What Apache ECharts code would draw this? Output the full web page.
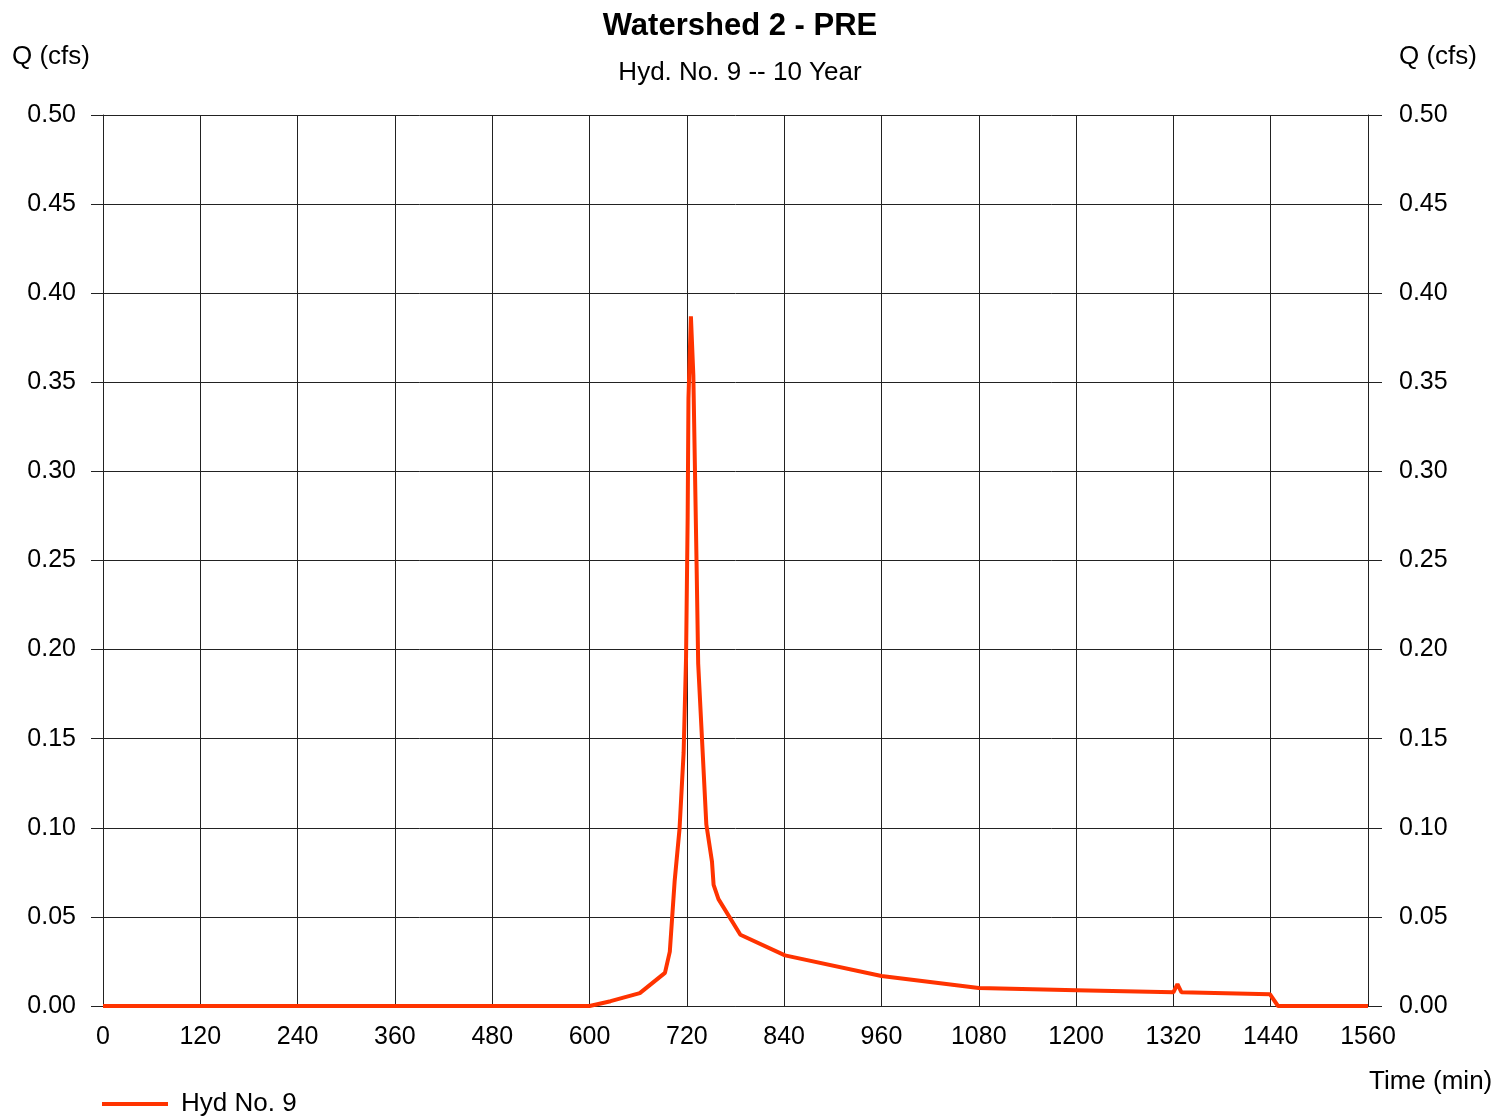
<!DOCTYPE html>
<html>
<head>
<meta charset="utf-8">
<script src="https://cdn.jsdelivr.net/npm/echarts@6/dist/echarts.min.js"></script>
<style>
  html, body { margin: 0; padding: 0; background: #fff; }
  #main { width: 1512px; height: 1116px; }
</style>
</head>
<body>
<div id="main"></div>
<script>
// hydrograph: time (min) vs flow (cfs)
const times = [0, 600, 626, 662, 693, 699, 705, 711, 716, 719, 721, 722, 725, 728, 732, 734, 744, 751, 753, 759, 786, 841, 960, 1080, 1200, 1320, 1325, 1330, 1439, 1449, 1560];
const flows = [0, 0, 0.0027, 0.0072, 0.0186, 0.0305, 0.0703, 0.0995, 0.142, 0.195, 0.274, 0.341, 0.387, 0.354, 0.248, 0.192, 0.102, 0.081, 0.068, 0.060, 0.040, 0.0284, 0.0168, 0.0101, 0.0089, 0.0077, 0.0123, 0.0077, 0.0066, 0, 0];
const seriesName = "Hyd No. 9";

const font = '"Liberation Sans", Arial, sans-serif';
const gridColor = "#222";

function yAxisCfg(pos) {
  return {
    type: "value",
    position: pos,
    min: 0,
    max: 0.5,
    interval: 0.05,
    name: "Q (cfs)",
    nameLocation: "end",
    nameGap: 58,
    nameTextStyle: {
      fontFamily: font, fontSize: 26, color: "#000",
      align: pos === "left" ? "right" : "left",
      verticalAlign: "middle",
      padding: pos === "left" ? [4, 13, 0, 0] : [4, 0, 0, 31]
    },
    axisLine: { show: true, lineStyle: { color: gridColor, width: 1 } },
    axisTick: { show: true, length: pos === "left" ? 12 : 14, lineStyle: { color: gridColor } },
    axisLabel: {
      fontFamily: font, fontSize: 25, color: "#000",
      margin: pos === "left" ? 27 : 31,
      padding: [4, 0, 0, 0],
      formatter: (v) => v.toFixed(2)
    },
    splitLine: { show: pos === "left", lineStyle: { color: gridColor, width: 1 } }
  };
}

const chart = echarts.init(document.getElementById("main"));
chart.setOption({
  animation: false,
  backgroundColor: "#fff",
  textStyle: { fontFamily: font },
  title: [
    { text: "Watershed 2 - PRE", left: 735, top: 6, textAlign: "center",
      textStyle: { fontFamily: font, fontSize: 31, fontWeight: "bold", color: "#000" } },
    { text: "Hyd. No. 9 -- 10 Year", left: 735, top: 55, textAlign: "center",
      textStyle: { fontFamily: font, fontSize: 26, fontWeight: "normal", color: "#000" } }
  ],
  grid: { left: 103, right: 144, top: 115, bottom: 110, containLabel: false },
  xAxis: {
    type: "value",
    min: 0,
    max: 1560,
    interval: 120,
    axisLine: { show: true, lineStyle: { color: gridColor, width: 1 } },
    axisTick: { show: false },
    axisLabel: { fontFamily: font, fontSize: 25, color: "#000", margin: 19, formatter: (v) => String(v) },
    splitLine: { show: true, lineStyle: { color: gridColor, width: 1 } }
  },
  yAxis: [yAxisCfg("left"), yAxisCfg("right")],
  legend: {
    left: 97,
    top: 1086,
    icon: "rect",
    itemWidth: 66,
    itemHeight: 4,
    itemGap: 20,
    textStyle: { fontFamily: font, fontSize: 26, color: "#000", padding: [0, 0, 0, 8] },
    data: [seriesName]
  },
  graphic: [
    { type: "text", left: 1369, top: 1069,
      style: { text: "Time (min)", font: "26px " + font, fill: "#000" } }
  ],
  series: [{
    name: seriesName,
    type: "line",
    data: times.map((t, i) => [t, flows[i]]),
    showSymbol: false,
    symbol: "none",
    lineStyle: { color: "#ff3300", width: 4 },
    itemStyle: { color: "#ff3300" },
    z: 5
  }]
});
window.onresize = function() {
  chart.resize();
};
</script>
</body>
</html>
